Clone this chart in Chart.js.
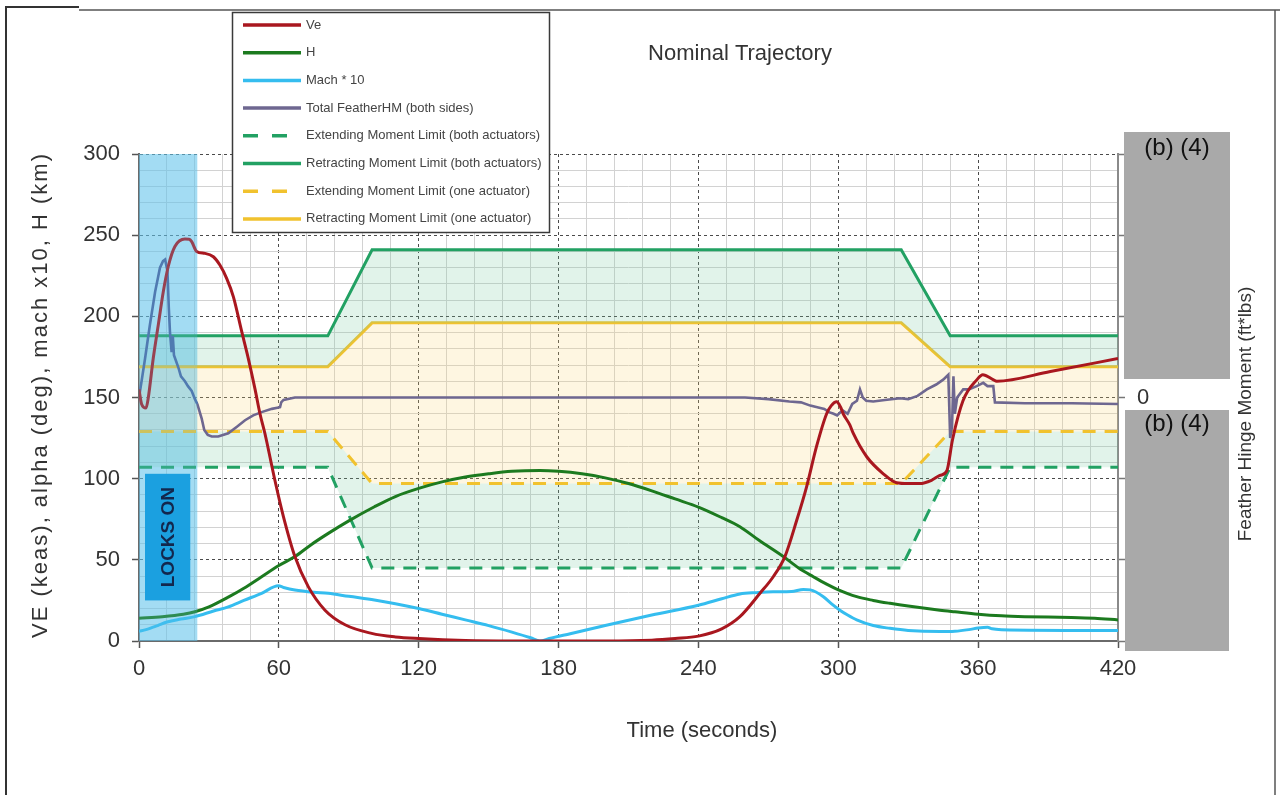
<!DOCTYPE html>
<html>
<head>
<meta charset="utf-8">
<script src="https://cdn.jsdelivr.net/npm/chart.js@4.4.1/dist/chart.umd.min.js"></script>
<style>
html,body{margin:0;padding:0;background:#fff;}
#wrap{position:relative;width:1280px;height:795px;}
canvas{display:block;}
</style>
</head>
<body>
<div id="wrap"><canvas id="c" width="1280" height="795"></canvas></div>
<script>
// ---------------- data ----------------
const seriesLabels = [
  'Ve',
  'H',
  'Mach * 10',
  'Total FeatherHM (both sides)',
  'Extending Moment Limit (both actuators)',
  'Retracting Moment Limit (both actuators)',
  'Extending Moment Limit (one actuator)',
  'Retracting Moment Limit (one actuator)'
];
const chartTitle = 'Nominal Trajectory';
const xAxisTitle = 'Time (seconds)';
const yAxisTitle = 'VE (keas), alpha (deg), mach x10, H (km)';
const y2AxisTitle = 'Feather Hinge Moment (ft*lbs)';
const lockLabel = 'LOCKS ON';
const redactionLabel = '(b) (4)';

const xTickValues = [0, 60, 120, 180, 240, 300, 360, 420];
const yTickValues = [0, 50, 100, 150, 200, 250, 300];

// Ve (keas)
const veTime = [0,1.1,3,4,6.1,8.3,10.4,12.6,15.4,19.7,21.5,22.6,24.7,28.3,31.9,34.7,37.6,40.5,44,46.9,49.8,51.9,54,58.3,61.9,66.9,72.6,79.8,88.4,99.8,110,120,140,160,200,220,230,240,250,257.8,266.4,272.1,277.1,282.2,286.4,290.7,295,297,299.3,301,302.1,305,306.4,312.2,319.3,325,330,335,340,343.6,346.6,349,353.5,359.5,362,366.4,368,391,420];
const veValues = [155,146,143.5,150,174,195,215,231,243,247.6,247.5,246,240,238.8,236.7,231.6,223.4,212,191,174,155,140,128,99,77,52,33.5,19,10,4.7,2.5,1.5,0.3,0,0,0.5,1.5,3,7.5,15,29.4,39.6,52,74.5,95,120,140,145,147.4,144,140,133,128,113.5,103,97.5,97,97,99,102,105,124,148,161,164,161,160,166,174];

// H (km)
const hTime = [0,10,19,24,30,38.3,45,52.6,60,66.9,74,81.2,90,101,110,120,130,140,150,160,172,180,190,200,210,220,230,240,250,257.8,266,276.4,283,289.3,295,299.3,307.9,315,322.2,330,343.6,350,360,370,380,400,410,420];
const hValues = [14,15,16.5,18,21,27,32.5,39.6,46.5,52,59.5,66.3,74,82.7,89,94,98,101,103,104.5,105,104.5,103,100.5,97,92.5,87.5,82.5,76,70.4,62,52,45,39.6,35,32,27.3,25,23.2,21.5,19,18,16.5,15.5,15,14.5,14,13];

// Mach * 10
const machTime = [0,3,8,12,18,24,32,38.3,45,52.6,59.8,62,66.9,75,81.2,90,101,110,120,130,140,150,160,168,172,176,185,200,220,240,250,257.8,265,272,280,285,288,293.6,297,300.7,304,307.9,315,322.2,330,343.6,350,356,360,364,366,370,420];
const machValues = [6,7,9.5,11.7,13.5,15,18.5,21,25,29.4,34,33,31.4,30,29.4,27.5,25.3,23,20,16.5,13,9.5,5.5,2,0,1.5,4.5,9.5,16,22,26,29,29.8,30.3,30.5,31.8,31.5,27.3,23,19,16,13,9.5,7.8,6.5,5.8,6,7,8,8.5,7.5,7,6.5];

// Total feather hinge moment (right axis, relative units; 0 = zero moment)
const hmTime = [0,1.1,2.6,4.7,6.9,9,10.3,11.2,12.2,12.8,13.3,14,14.5,15,16,17,18,19.7,21,22.6,24,25,26.9,28,29.5,31.2,34,38.3,42,45.5,49,52.6,57,60.5,61,62,66.9,100,150,200,260,270,279,284,288,291,294,296,298,299.5,301,302,304,306,308,309.3,310.5,312,315,320,326.5,330,334,338,342,345,347.2,348,348.8,349.4,350,351,353.6,356,359.4,362.2,364,366.5,367.2,380,400,420];
const hmValues = [0,10,24,45,65,80,84,85,78,55,40,28,38,26,22,18,13,10,7,4,-1,-4,-13,-20,-23,-24,-24,-22,-18,-14,-11,-9,-7,-6,-3,-1.5,0,0,0,0,0,-1,-2.5,-3,-5,-6,-7,-9,-10,-11,-9,-8,-10,-4,-2,5,0,-2,-2.5,-1.5,-0.5,-1,1,5,8,11,14,-25,-18,13,-10,0,5,5,7,9,7,7,-3,-3.5,-3.5,-4];

// Moment limits (right axis, relative units)
const limitTime = [0, 81, 100, 327, 348, 420];
const extBothValues = [-43, -43, -105, -105, -43, -43];
const retBothValues = [38, 38, 91, 91, 38, 38];
const extOneValues  = [-21, -21, -53, -53, -21, -21];
const retOneValues  = [19, 19, 46, 46, 19, 19];

// Locks-on time window (seconds)
const lockWindow = [0, 25];

// ---------------- chart ----------------
const FONT = '"Liberation Sans", Arial, Helvetica, sans-serif';
const pts = (xs, ys) => xs.map((t, i) => ({ x: t, y: ys[i] }));

const C = {
  ve: '#a9171f', h: '#1c7a1f', mach: '#35bdef', hm: '#6e6790', hmEarly: '#4a629e',
  green: '#22a163', yellow: '#f1c22e',
  greenFill: 'rgba(120,200,160,0.22)', yellowFill: 'rgba(250,215,120,0.22)'
};

const lineBase = { pointRadius: 0, pointHoverRadius: 0, borderWidth: 3, xAxisID: 'x' };

const datasets = [
  { ...lineBase, label: seriesLabels[0], data: pts(veTime, veValues), borderColor: C.ve, yAxisID: 'y', cubicInterpolationMode: 'monotone', fill: false },
  { ...lineBase, label: seriesLabels[1], data: pts(hTime, hValues), borderColor: C.h, yAxisID: 'y', cubicInterpolationMode: 'monotone', fill: false },
  { ...lineBase, label: seriesLabels[2], data: pts(machTime, machValues), borderColor: C.mach, yAxisID: 'y', cubicInterpolationMode: 'monotone', fill: false },
  { ...lineBase, label: seriesLabels[3], data: pts(hmTime, hmValues), borderColor: C.hm, yAxisID: 'y2', tension: 0, borderWidth: 2.6, fill: false,
    segment: { borderColor: (ctx) => ctx.p0.parsed.x < lockWindow[1] ? C.hmEarly : undefined } },
  { ...lineBase, label: seriesLabels[4], data: pts(limitTime, extBothValues), borderColor: C.green, borderDash: [13, 9], yAxisID: 'y2', tension: 0, fill: false },
  { ...lineBase, label: seriesLabels[5], data: pts(limitTime, retBothValues), borderColor: C.green, yAxisID: 'y2', tension: 0, fill: 7, backgroundColor: C.greenFill },
  { ...lineBase, label: seriesLabels[6], data: pts(limitTime, extOneValues), borderColor: C.yellow, borderDash: [13, 9], yAxisID: 'y2', tension: 0, fill: 4, backgroundColor: C.greenFill },
  { ...lineBase, label: seriesLabels[7], data: pts(limitTime, retOneValues), borderColor: C.yellow, yAxisID: 'y2', tension: 0, fill: 6, backgroundColor: C.yellowFill }
];

const tickFont = { family: FONT, size: 22 };
const majorGrid = { color: '#4a4a4a', lineWidth: 1, drawTicks: true, tickLength: 7, tickColor: '#555', tickWidth: 1.5 };
const majorBorder = { display: true, color: '#6a6a6a', width: 2, dash: [3, 3] };
const minorGridColor = (step) => (ctx) => (ctx.tick && Math.abs(ctx.tick.value % step) < 1e-6) ? 'rgba(0,0,0,0)' : '#d2d2d2';

const decor = {
  id: 'decor',
  beforeDatasetsDraw(chart) {
    const { ctx, chartArea: a, scales: { x } } = chart;
    const x0 = x.getPixelForValue(lockWindow[0]), x1 = x.getPixelForValue(lockWindow[1]);
    ctx.save();
    ctx.fillStyle = 'rgba(100,195,235,0.45)';
    ctx.fillRect(x0, a.top, x1 - x0, a.bottom - a.top);
    ctx.restore();
  },
  afterDatasetsDraw(chart) {
    const { ctx, chartArea: a, scales: { x, y } } = chart;
    const x0 = x.getPixelForValue(lockWindow[0]), x1 = x.getPixelForValue(lockWindow[1]);
    ctx.save();
    ctx.fillStyle = 'rgba(100,195,235,0.25)';
    ctx.fillRect(x0, a.top, x1 - x0, a.bottom - a.top);
    // LOCKS ON tag
    const bx0 = x0 + 6, bx1 = x1 - 7;
    const by0 = y.getPixelForValue(103), by1 = y.getPixelForValue(25);
    ctx.fillStyle = '#1ba0e0';
    ctx.fillRect(bx0, by0, bx1 - bx0, by1 - by0);
    ctx.translate((bx0 + bx1) / 2, (by0 + by1) / 2);
    ctx.rotate(-Math.PI / 2);
    ctx.fillStyle = '#13274d';
    ctx.font = 'bold 19px ' + FONT;
    ctx.textAlign = 'center';
    ctx.textBaseline = 'middle';
    ctx.fillText(lockLabel, 0, 1);
    ctx.restore();
  },
  afterDraw(chart) {
    const { ctx } = chart;
    ctx.save();
    // titles
    ctx.fillStyle = '#333';
    ctx.textAlign = 'center';
    ctx.textBaseline = 'middle';
    ctx.font = '22px ' + FONT;
    ctx.fillText(chartTitle, 740, 54);
    ctx.fillText(xAxisTitle, 702, 731);
    ctx.save();
    ctx.translate(41, 395);
    ctx.rotate(-Math.PI / 2);
    ctx.letterSpacing = '2px';
    ctx.fillText(yAxisTitle, 0, 0);
    ctx.restore();
    // redaction boxes
    ctx.fillStyle = '#a9a9a9';
    ctx.fillRect(1124, 132, 106, 247);
    ctx.fillRect(1125, 410, 104, 241);
    ctx.fillStyle = '#111';
    ctx.font = '24px ' + FONT;
    ctx.fillText(redactionLabel, 1177, 148);
    ctx.fillText(redactionLabel, 1177, 424);
    // right axis title
    ctx.fillStyle = '#333';
    ctx.font = '19px ' + FONT;
    ctx.save();
    ctx.translate(1246, 414);
    ctx.rotate(-Math.PI / 2);
    ctx.fillText(y2AxisTitle, 0, 0);
    ctx.restore();
    // legend
    const L = { x: 232, y: 12, w: 317, h: 220 };
    ctx.fillStyle = '#fff';
    ctx.fillRect(L.x, L.y, L.w, L.h);
    ctx.strokeStyle = '#3a3a3a';
    ctx.lineWidth = 1.5;
    ctx.strokeRect(L.x + 0.5, L.y + 0.5, L.w, L.h);
    ctx.font = '13px ' + FONT;
    ctx.textAlign = 'left';
    chart.data.datasets.forEach((ds, i) => {
      const yy = 25 + i * 27.7;
      ctx.strokeStyle = ds.borderColor;
      ctx.lineWidth = 3.5;
      ctx.beginPath();
      if (ds.borderDash) {
        ctx.setLineDash([15, 14]);
        ctx.moveTo(243, yy); ctx.lineTo(288, yy);
      } else {
        ctx.setLineDash([]);
        ctx.moveTo(243, yy); ctx.lineTo(301, yy);
      }
      ctx.stroke();
      ctx.setLineDash([]);
      ctx.fillStyle = '#444';
      ctx.fillText(ds.label, 306, yy);
    });
    // outer frame
    ctx.strokeStyle = '#333';
    ctx.lineWidth = 2;
    ctx.beginPath();
    ctx.moveTo(6, 795); ctx.lineTo(6, 7); ctx.lineTo(79, 7);
    ctx.stroke();
    ctx.strokeStyle = '#555';
    ctx.lineWidth = 1.5;
    ctx.beginPath();
    ctx.moveTo(79, 10); ctx.lineTo(1280, 10);
    ctx.moveTo(1275, 10); ctx.lineTo(1275, 795);
    ctx.stroke();
    ctx.restore();
  }
};

new Chart(document.getElementById('c'), {
  type: 'line',
  data: { datasets },
  plugins: [decor],
  options: {
    responsive: false,
    animation: false,
    devicePixelRatio: 1,
    layout: { padding: { top: 154, left: 0, right: 0, bottom: 0 } },
    plugins: { legend: { display: false }, tooltip: { enabled: false }, title: { display: false } },
    scales: {
      x: {
        type: 'linear', position: 'bottom', min: 0, max: 420,
        afterBuildTicks: (s) => { s.ticks = xTickValues.map(v => ({ value: v })); },
        ticks: { stepSize: 60, font: tickFont, color: '#333', padding: 8, maxRotation: 0, autoSkip: false },
        grid: majorGrid, border: majorBorder,
        afterFit: (s) => { s.height = 154; }
      },
      xMinor: {
        type: 'linear', position: 'bottom', min: 0, max: 420,
        ticks: { display: false, stepSize: 12 },
        grid: { color: minorGridColor(60), lineWidth: 1, drawTicks: false },
        border: { display: false },
        afterFit: (s) => { s.height = 0; }
      },
      y: {
        type: 'linear', position: 'left', min: 0, max: 300,
        afterBuildTicks: (s) => { s.ticks = yTickValues.map(v => ({ value: v })); },
        ticks: { stepSize: 50, font: tickFont, color: '#333', padding: 12 },
        grid: majorGrid, border: majorBorder,
        afterFit: (s) => { s.width = 139; }
      },
      yMinor: {
        type: 'linear', position: 'left', min: 0, max: 300,
        ticks: { display: false, stepSize: 10 },
        grid: { color: minorGridColor(50), lineWidth: 1, drawTicks: false },
        border: { display: false },
        afterFit: (s) => { s.width = 0; }
      },
      y2: {
        type: 'linear', position: 'right', min: -150, max: 150,
        ticks: { stepSize: 50, font: tickFont, color: '#333', padding: 12, callback: (v) => v === 0 ? '0' : '' },
        grid: { drawOnChartArea: false, drawTicks: true, tickLength: 7, tickColor: '#777', tickWidth: 1.5 },
        border: { display: true, color: '#8a8a8a', width: 2 },
        afterFit: (s) => { s.width = 162; }
      }
    }
  }
});
</script>
</body>
</html>
